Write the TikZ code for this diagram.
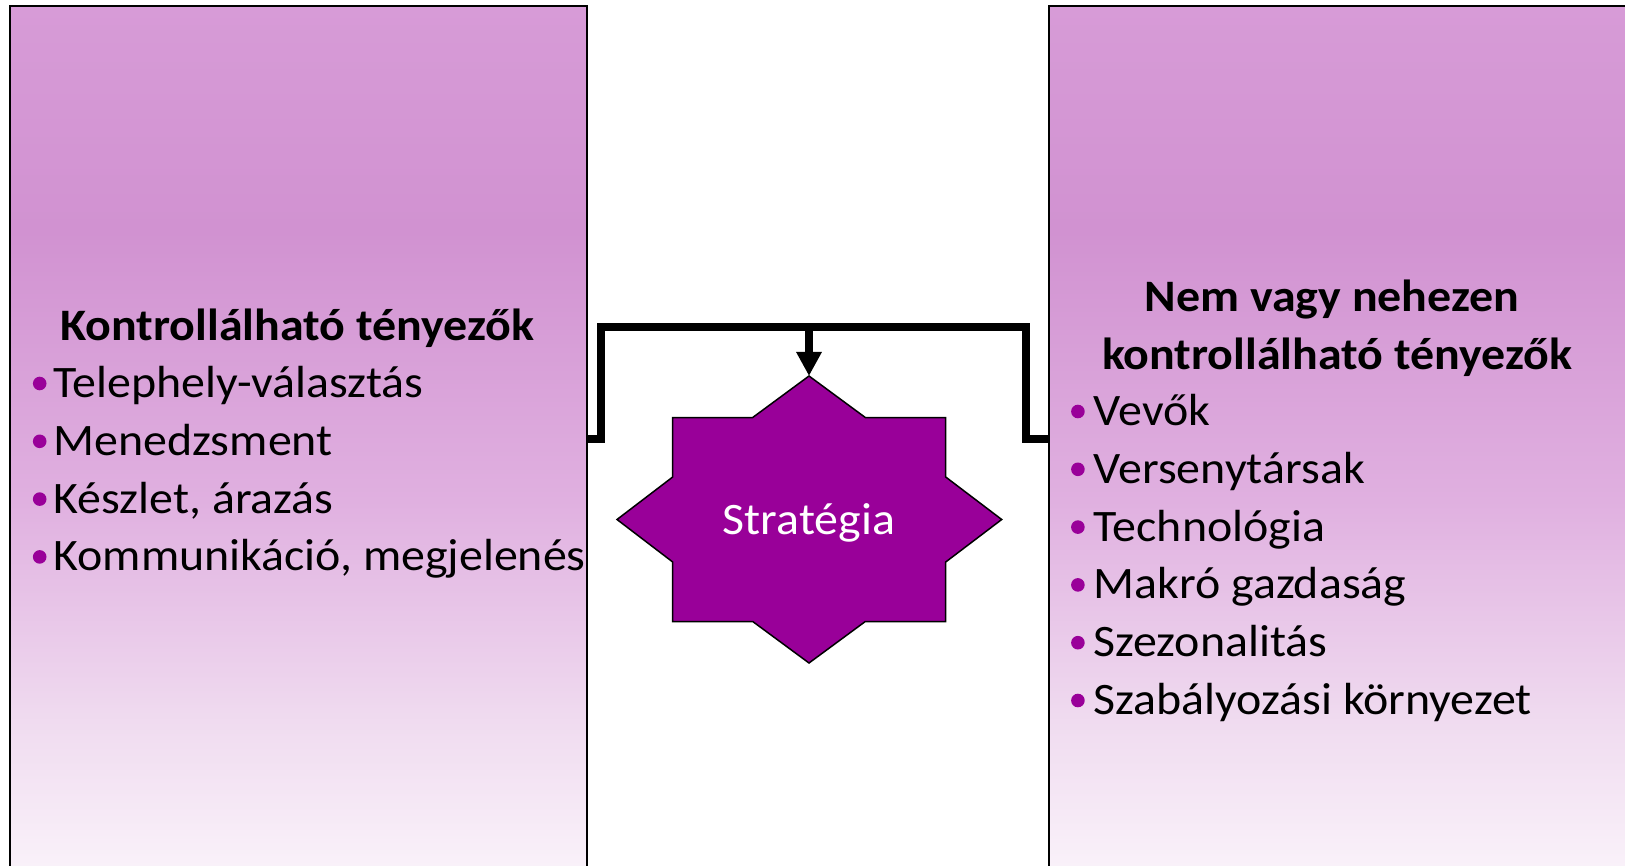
\documentclass[tikz,border=0pt]{standalone}
\usepackage{fontspec}
\setmainfont[FakeStretch=1.065]{Carlito}
\usetikzlibrary{arrows.meta}
\definecolor{bulc}{RGB}{153,0,153}
\definecolor{starc}{RGB}{153,0,153}
\definecolor{gtop}{RGB}{215,155,215}
\definecolor{gdark}{RGB}{209,146,209}
\definecolor{gmid}{RGB}{224,176,224}
\definecolor{glow}{RGB}{240,220,240}
\definecolor{gbot}{RGB}{252,247,252}
\pgfdeclareverticalshading{boxshade}{100bp}{color(0bp)=(gbot); color(25bp)=(gbot); color(35bp)=(glow); color(47.5bp)=(gmid); color(62.5bp)=(gdark); color(75bp)=(gtop); color(100bp)=(gtop)}
\tikzset{
  box/.style={draw=black, line width=2pt, shading=boxshade, minimum width=577pt, minimum height=900pt, anchor=north west, inner sep=0pt},
  ttl/.style={anchor=base, inner sep=0pt, font=\fontsize{45}{57}\selectfont\bfseries},
  itm/.style={anchor=base west, inner sep=0pt, font=\fontsize{45}{57}\selectfont},
  bul/.style={fill=bulc},
  conn/.style={line width=8pt, draw=black},
  startxt/.style={inner sep=0pt, text=white, font=\fontsize{45}{57}\selectfont}
}
\begin{document}
\begin{tikzpicture}[x=1pt,y=-1pt]
\useasboundingbox (0,0) rectangle (1625,866);
\clip (0,0) rectangle (1625,866);
\fill[white] (0,0) rectangle (1625,866);
% boxes
\node[box] (lbox) at (8.5,4.7) {};
\node[box] (rbox) at (1048,4.7) {};
% left text
\node[ttl] (lt) at (297,340.5) {Kontrollálható tényezők};
\foreach \t [count=\i from 0] in {Telephely-választás,Menedzsment,{Készlet, árazás},{Kommunikáció, megjelenés}}{
  \pgfmathsetmacro{\yb}{397.5+57.8*\i}
  \fill[bul] (39.7,\yb-14) circle (6.8);
  \node[itm] (l\i) at (53.3,\yb) {\t};
}
% right text
\node[ttl] (rt1) at (1332,311.5) {Nem vagy nehezen};
\node[ttl] (rt2) at (1337,369.3) {kontrollálható tényezők};
\foreach \t [count=\i from 0] in {Vevők,Versenytársak,Technológia,Makró gazdaság,Szezonalitás,Szabályozási környezet}{
  \pgfmathsetmacro{\yb}{425.5+57.8*\i}
  \fill[bul] (1077.9,\yb-14) circle (6.8);
  \node[itm] (r\i) at (1093.4,\yb) {\t};
}
% star
\path[draw=black, line width=1.5pt, fill=starc, line join=miter]
  (752.7,417.5) -- (809,376) -- (865.3,417.5) -- (945.7,417.5) -- (945.7,477) -- (1001.7,519.5)
  -- (945.7,562) -- (945.7,621.5) -- (865.3,621.5) -- (809,663) -- (752.7,621.5) -- (672.7,621.5)
  -- (672.7,562) -- (617,519.5) -- (672.7,477) -- (672.7,417.5) -- cycle;
\coordinate (startop) at (809,376);
\node[startxt] (star) at (809,523) {Stratégia};
% connectors
\coordinate (jl) at (600.8,438.8);
\coordinate (tl) at (600.8,327.5);
\coordinate (tm) at (809,327.5);
\coordinate (tr) at (1025.8,327.5);
\coordinate (jr) at (1025.8,438.8);
\draw[conn] (lbox.east |- jl) -- (jl) -- (tl) -- (tr) -- (jr) -- (rbox.west |- jr);
\draw[conn, -{Triangle[width=24pt,length=24pt]}] (tm) -- (startop);
\end{tikzpicture}
\end{document}
